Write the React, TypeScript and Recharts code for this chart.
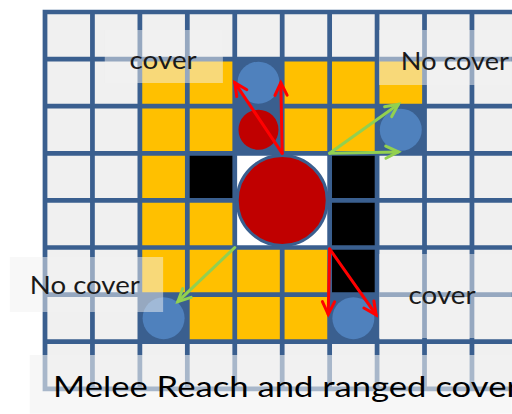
import { ComposedChart, XAxis, YAxis, ReferenceArea, ReferenceLine, ReferenceDot, Scatter } from "recharts";

// grid size (cells) and which cells hold what, as [col, row]
const COLS = 10;
const ROWS = 8;
const yellowCells = [
  [2, 1], [3, 1], [5, 1], [6, 1], [7, 1],
  [2, 2], [3, 2], [5, 2], [6, 2],
  [2, 3],
  [2, 4], [3, 4],
  [2, 5], [3, 5], [4, 5], [5, 5],
  [3, 6], [4, 6], [5, 6],
];
const blackCells = [[3, 3], [6, 3], [6, 4], [6, 5]];
const tokenCells = [[4, 1], [4, 2], [7, 2], [2, 6], [6, 6]];
const bigCell = [4, 3];

// tokens (cell centres)
const blueTokens = [
  { x: 4.5, y: 1.5 },
  { x: 7.5, y: 2.5 },
  { x: 2.5, y: 6.5 },
  { x: 6.5, y: 6.5 },
];
const redTokens = [{ x: 4.5, y: 2.5 }];
const bigToken = [{ x: 5, y: 4 }];

// arrows: from -> to
const redArrows = [
  [5, 3, 4.0, 1.5],
  [5, 3, 4.97, 1.5],
  [6, 5.03, 5.97, 6.42],
  [6, 5.03, 6.98, 6.43],
];
const greenArrows = [
  [6, 3, 7.45, 1.96],
  [6, 3, 7.45, 2.97],
  [4, 5, 2.8, 6.15],
];

// labels and their shaded boxes [x1, x2, y1, y2]
const labelTexts = ["cover", "No cover", "No cover", "cover"];
const labelPos = [[2.49, 1.0], [8.64, 1.02], [0.84, 5.78], [8.37, 5.99]];
const labelBoxes = [
  [1.26, 3.75, 0.38, 1.51],
  [7.04, 9.84, 0.38, 1.55],
  [-0.74, 2.49, 5.2, 6.37],
  [7.04, 9.84, 5.14, 6.92],
];
const title = "Melee Reach and ranged cover";
const titlePos = [0.17, 8.17];
const titleBox = [-0.32, 9.84, 7.28, 8.53];

const NAVY = "#3a5f8f";
const GRAY = "#f0f0f0";
const YELLOW = "#ffc000";
const FONT = "Lato, 'Open Sans', sans-serif";
const LABEL_WIDTHS = [67, 108, 110, 67];
const INSET = 0.05;

const key = (c: number[]) => c[0] + "," + c[1];
const yellowSet = new Set(yellowCells.map(key));
const blackSet = new Set(blackCells.map(key));
const tokenSet = new Set(tokenCells.map(key));

const allCells: number[][] = [];
for (let r = 0; r < ROWS; r++) {
  for (let c = 0; c < COLS; c++) {
    const inBig = c >= bigCell[0] && c < bigCell[0] + 2 && r >= bigCell[1] && r < bigCell[1] + 2;
    if (inBig || tokenSet.has(key([c, r]))) continue;
    allCells.push([c, r]);
  }
}

const cellColor = (c: number[]) => {
  if (yellowSet.has(key(c))) return YELLOW;
  if (blackSet.has(key(c))) return "#000000";
  return GRAY;
};

const arrowShape = (color: string) => (p: any) => {
  const { x1, y1, x2, y2 } = p;
  const a = Math.atan2(y2 - y1, x2 - x1);
  const L = 14;
  const s = 0.45;
  const h1 = [x2 - L * Math.cos(a - s), y2 - L * Math.sin(a - s)];
  const h2 = [x2 - L * Math.cos(a + s), y2 - L * Math.sin(a + s)];
  return (
    <g stroke={color} strokeWidth={3} fill="none" strokeLinecap="round">
      <line x1={x1} y1={y1} x2={x2} y2={y2} />
      <polyline points={`${h1[0]},${h1[1]} ${x2},${y2} ${h2[0]},${h2[1]}`} />
    </g>
  );
};

const circle = (r: number, fill: string, stroke?: string) => (p: any) => (
  <circle cx={p.cx} cy={p.cy} r={r} fill={fill} stroke={stroke || "none"} strokeWidth={3} />
);

export default function App() {
  return (
    <div style={{ position: "absolute", left: 0, top: 0, background: "#fff" }}>
      <ComposedChart width={512} height={414} data={blueTokens} margin={{ top: 0, right: 0, bottom: 0, left: 0 }}>
        <XAxis type="number" dataKey="x" domain={[-0.9486, 9.844]} allowDataOverflow hide />
        <YAxis type="number" dataKey="y" domain={[-0.2548, 8.535]} allowDataOverflow reversed hide />

        <ReferenceArea x1={-0.05} x2={9.844} y1={-0.05} y2={ROWS + 0.05} fill={NAVY} fillOpacity={1} ifOverflow="visible" zIndex={100} />
        {allCells.map((c, i) => (
          <ReferenceArea key={"c" + i} x1={c[0] + INSET} x2={c[0] + 1 - INSET} y1={c[1] + INSET} y2={c[1] + 1 - INSET}
            fill={cellColor(c)} fillOpacity={1} ifOverflow="visible" zIndex={100} />
        ))}
        <ReferenceArea x1={bigCell[0] + INSET} x2={bigCell[0] + 2 - INSET} y1={bigCell[1] + INSET} y2={bigCell[1] + 2 - INSET}
          fill="#ffffff" fillOpacity={1} zIndex={100} />

        <Scatter data={blueTokens} fill="#4f81bd" shape={circle(21, "#4f81bd")} isAnimationActive={false} zIndex={200} />
        <Scatter data={redTokens} fill="#c00000" shape={circle(20, "#c00000")} isAnimationActive={false} zIndex={200} />
        <Scatter data={bigToken} fill="#c00000" shape={circle(45, "#c00000", NAVY)} isAnimationActive={false} zIndex={200} />

        {redArrows.map((a, i) => (
          <ReferenceLine key={"r" + i} segment={[{ x: a[0], y: a[1] }, { x: a[2], y: a[3] }]} shape={arrowShape("#ff0000")} zIndex={300} />
        ))}
        {greenArrows.map((a, i) => (
          <ReferenceLine key={"g" + i} segment={[{ x: a[0], y: a[1] }, { x: a[2], y: a[3] }]} shape={arrowShape("#92d050")} zIndex={300} />
        ))}

        {labelBoxes.map((b, i) => (
          <ReferenceArea key={"b" + i} x1={b[0]} x2={b[1]} y1={b[2]} y2={b[3]} fill="#f2f2f2" fillOpacity={0.5} ifOverflow="visible" zIndex={400} />
        ))}
        <ReferenceArea x1={titleBox[0]} x2={titleBox[1]} y1={titleBox[2]} y2={titleBox[3]} fill="#f2f2f2" fillOpacity={0.6} ifOverflow="visible" zIndex={400} />

        {labelTexts.map((t, i) => (
          <ReferenceDot key={"t" + i} x={labelPos[i][0]} y={labelPos[i][1]} zIndex={500}
            shape={(p: any) => (
              <text x={p.cx} y={p.cy} textAnchor="middle" dominantBaseline="central" fontFamily={FONT} fontSize={25}
                fill="#1a1a1a" textLength={LABEL_WIDTHS[i]} lengthAdjust="spacingAndGlyphs">{t}</text>
            )} />
        ))}
        <ReferenceDot x={titlePos[0]} y={titlePos[1]} zIndex={500}
          shape={(p: any) => (
            <text x={p.cx} y={p.cy} fontFamily={FONT} fontSize={29} fill="#000" textLength={466} lengthAdjust="spacingAndGlyphs">{title}</text>
          )} />
      </ComposedChart>
    </div>
  );
}
